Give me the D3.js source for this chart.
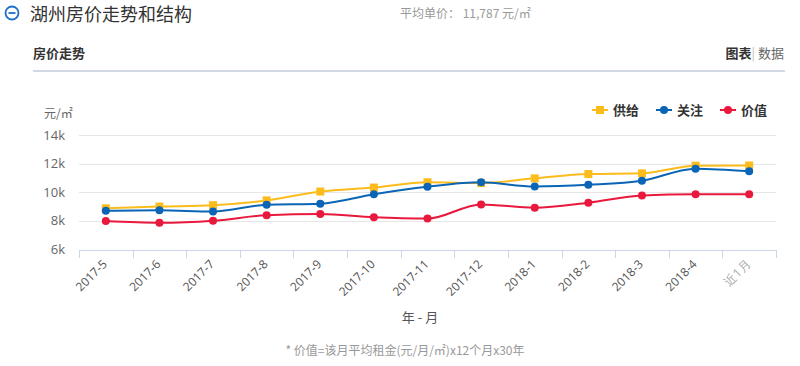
<!DOCTYPE html>
<html>
<head>
<meta charset="utf-8">
<script src="https://cdn.jsdelivr.net/npm/d3@7"></script>
<style>
  body { margin: 0; background: #fff; font-family: "Noto Sans CJK SC", "Noto Sans", sans-serif; }
  svg { display: block; }
</style>
</head>
<body>
<svg id="chart" width="800" height="366"></svg>
<script>
const months = ["2017-5", "2017-6", "2017-7", "2017-8", "2017-9", "2017-10", "2017-11",
                "2017-12", "2018-1", "2018-2", "2018-3", "2018-4", "近1月"];
const supply = [8880, 9000, 9100, 9430, 10050, 10330, 10700, 10640, 10970, 11270, 11320, 11860, 11870];
const attention = [8700, 8740, 8650, 9130, 9200, 9860, 10380, 10690, 10400, 10520, 10800, 11650, 11470];
const value = [7990, 7870, 8010, 8390, 8480, 8250, 8160, 9150, 8920, 9270, 9770, 9860, 9860];
const yTicks = [6000, 8000, 10000, 12000, 14000];

const seriesNames = ["供给", "关注", "价值"];
const seriesColors = ["#fcbc1c", "#0b65b6", "#e8193c"];
const seriesData = [supply, attention, value];

const svg = d3.select("#chart");

// header
const head = svg.append("g");
head.append("circle").attr("cx", 12).attr("cy", 13).attr("r", 6.5)
  .attr("fill", "none").attr("stroke", "#1f6fc8").attr("stroke-width", 1.8);
head.append("line").attr("x1", 8.5).attr("x2", 15.5).attr("y1", 13).attr("y2", 13)
  .attr("stroke", "#1f6fc8").attr("stroke-width", 1.8);
head.append("text").attr("x", 30).attr("y", 21).attr("font-size", 18).attr("fill", "#333")
  .text("湖州房价走势和结构");
head.append("text").attr("x", 400).attr("y", 18).attr("font-size", 12).attr("fill", "#999")
  .text("平均单价： 11,787 元/㎡");
head.append("text").attr("x", 33).attr("y", 58).attr("font-size", 13).attr("font-weight", "bold")
  .attr("fill", "#333").text("房价走势");
const tab = head.append("text").attr("x", 784).attr("y", 58).attr("font-size", 13)
  .attr("text-anchor", "end");
tab.append("tspan").attr("font-weight", "bold").attr("fill", "#333").text("图表");
tab.append("tspan").attr("fill", "#bbb").text("| ");
tab.append("tspan").attr("fill", "#666").text("数据");
head.append("line").attr("x1", 33).attr("x2", 785).attr("y1", 71).attr("y2", 71)
  .attr("stroke", "#d3d8e6").attr("stroke-width", 2);

// scales
const x = d3.scaleBand().domain(months).range([79, 776]);
const y = d3.scaleLinear().domain([6000, 14000]).range([249.5, 135]);
const cx = d => x(d) + x.bandwidth() / 2;

// grid
svg.append("g").selectAll("line").data(yTicks.slice(1)).join("line")
  .attr("x1", 79).attr("x2", 776)
  .attr("y1", d => Math.round(y(d)) + 0.5).attr("y2", d => Math.round(y(d)) + 0.5)
  .attr("stroke", "#e6e6e6");

// y axis labels
svg.append("g").selectAll("text").data(yTicks).join("text")
  .attr("x", 65).attr("y", d => y(d) + 4.5)
  .attr("text-anchor", "end").attr("font-size", 13).attr("fill", "#666")
  .attr("font-family", "'Open Sans', sans-serif")
  .text(d => d / 1000 + "k");
svg.append("text").attr("x", 44).attr("y", 118).attr("font-size", 12).attr("fill", "#666")
  .text("元/㎡");

// x axis
const xAxis = svg.append("g").attr("transform", "translate(0,250)")
  .call(d3.axisBottom(x).tickSize(0).tickFormat(""));
xAxis.select(".domain").attr("stroke", "#ccd6eb");
const bounds = months.map(m => x(m)).concat([x.range()[1]]);
xAxis.selectAll(".tickb").data(bounds).join("line").attr("class", "tickb")
  .attr("x1", d => Math.round(d) + 0.5).attr("x2", d => Math.round(d) + 0.5)
  .attr("y1", 0).attr("y2", 8).attr("stroke", "#ccd6eb");
svg.append("g").selectAll("text").data(months).join("text")
  .attr("transform", d => `translate(${cx(d) + 2},${265}) rotate(-45)`)
  .attr("text-anchor", "end").attr("font-size", 12)
  .attr("font-family", "'Open Sans', sans-serif")
  .attr("fill", (d, i) => i === months.length - 1 ? "#aaa" : "#555")
  .text(d => d);
svg.append("text").attr("x", 420).attr("y", 322).attr("text-anchor", "middle")
  .attr("font-size", 13).attr("fill", "#555").text("年 - 月");
svg.append("text").attr("x", 405).attr("y", 355).attr("text-anchor", "middle")
  .attr("font-size", 12).attr("fill", "#999").text("* 价值=该月平均租金(元/月/㎡)x12个月x30年");

// lines
const line = d3.line().x((d, i) => cx(months[i])).y(d => y(d)).curve(d3.curveMonotoneX);
seriesData.forEach((data, s) => {
  const g = svg.append("g");
  g.append("path").datum(data).attr("d", line).attr("fill", "none")
    .attr("stroke", seriesColors[s]).attr("stroke-width", 2);
  if (s === 0) {
    g.selectAll("rect").data(data).join("rect")
      .attr("x", (d, i) => cx(months[i]) - 4).attr("y", d => y(d) - 4)
      .attr("width", 8).attr("height", 8).attr("fill", seriesColors[s]);
  } else {
    g.selectAll("circle").data(data).join("circle")
      .attr("cx", (d, i) => cx(months[i])).attr("cy", d => y(d))
      .attr("r", 4).attr("fill", seriesColors[s]);
  }
});

// legend
const legendX = [592, 656, 720];
const lg = svg.append("g");
seriesNames.forEach((name, s) => {
  const g = lg.append("g").attr("transform", `translate(${legendX[s]},110)`);
  g.append("line").attr("x1", 0).attr("x2", 16).attr("y1", 0).attr("y2", 0)
    .attr("stroke", seriesColors[s]).attr("stroke-width", 2);
  if (s === 0) g.append("rect").attr("x", 4).attr("y", -4).attr("width", 8).attr("height", 8).attr("fill", seriesColors[s]);
  else g.append("circle").attr("cx", 8).attr("cy", 0).attr("r", 4).attr("fill", seriesColors[s]);
  g.append("text").attr("x", 21).attr("y", 5).attr("font-size", 13).attr("font-weight", "bold")
    .attr("fill", "#333").text(name);
});
</script>
</body>
</html>
